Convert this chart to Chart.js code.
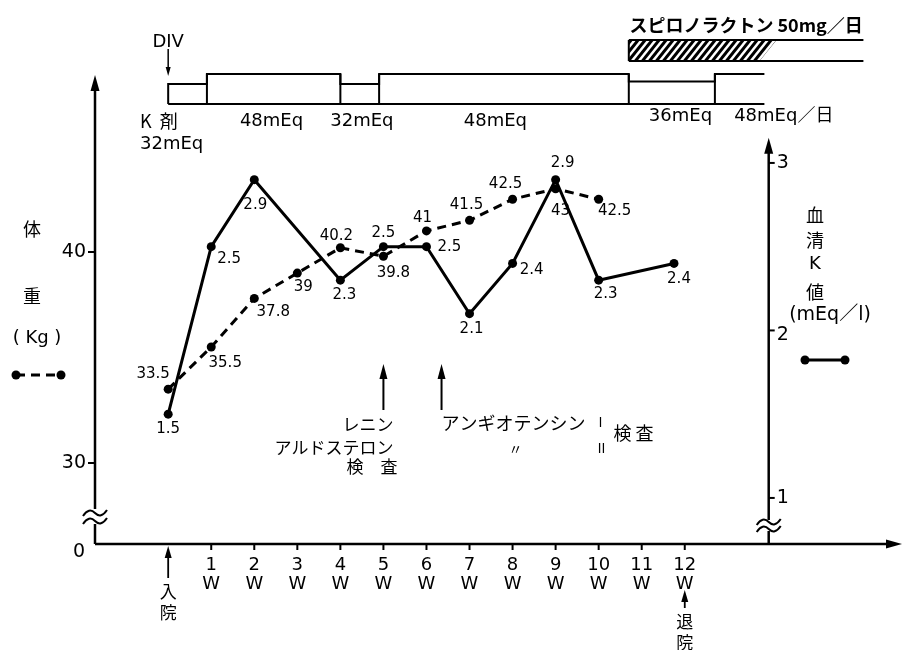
<!DOCTYPE html>
<html>
<head>
<meta charset="utf-8">
<script src="https://cdn.jsdelivr.net/npm/chart.js@4"></script>
<style>
  body { margin: 0; background: #fff; }
  #wrap { width: 906px; height: 650px; }
</style>
</head>
<body>
<div id="wrap"><canvas id="chart"></canvas></div>
<script>
// body weight (Kg), dashed line
const weeks = [0, 1, 2, 3, 4, 5, 6, 7, 8, 9, 10];
const weightKg = [33.5, 35.5, 37.8, 39, 40.2, 39.8, 41, 41.5, 42.5, 43, 42.5];

// serum K (mEq/l), solid line
const kWeeks = [0, 1, 2, 4, 5, 6, 7, 8, 9, 10, 11.75];
const serumK = [1.5, 2.5, 2.9, 2.3, 2.5, 2.5, 2.1, 2.4, 2.9, 2.3, 2.4];

// axes
const weekTicks = [1, 2, 3, 4, 5, 6, 7, 8, 9, 10, 11, 12];
const weightTicks = [30, 40];
const kTicks = [1, 2, 3];

// K supplement schedule (weeks) and dose
const doseEdges = [0, 0.9, 4, 4.9, 10.7, 12.7, 13.85];
const doseMEq = [32, 48, 32, 48, 36, 48];
const doseLabels = ['48mEq', '32mEq', '48mEq', '36mEq', '48mEq／日'];
const doseLabelWeeks = [2.4, 4.5, 7.6, 11.9, 14.3];

// spironolactone: start, end of hatching, end of bar
const spiroWeeks = [10.7, 13.9, 16.15];

// hormone tests
const testWeeks = [5, 6.35];

// where value labels sit relative to their points
const weightLabelOffsets = [[-15, -15], [14, 16], [19, 14], [6, 14], [-4, -12], [10, 17], [-4, -13], [-3, -15], [-7, -15], [5, 22], [16, 12]];
const kLabelOffsets = [[0, 15], [18, 12], [1, 25], [4, 15], [0, -14], [23, 0], [2, 15], [19, 7], [7, -17], [7, 14], [5, 16]];

const JP = '"Noto Sans CJK JP", sans-serif';
const NUM = '"DejaVu Sans", "Noto Sans CJK JP", sans-serif';

function line(ctx, x1, y1, x2, y2) {
    ctx.beginPath();
    ctx.moveTo(x1, y1);
    ctx.lineTo(x2, y2);
    ctx.stroke();
}

function text(ctx, s, x, y, font, align) {
    ctx.font = font;
    ctx.textAlign = align || 'center';
    ctx.textBaseline = 'middle';
    ctx.fillText(s, x, y);
}

function headUp(ctx, x, y, w, h) {
    ctx.beginPath();
    ctx.moveTo(x, y);
    ctx.lineTo(x - w / 2, y + h);
    ctx.lineTo(x + w / 2, y + h);
    ctx.closePath();
    ctx.fill();
}

function tilde(ctx, x, y) {
    ctx.beginPath();
    ctx.moveTo(x - 12, y + 3);
    ctx.quadraticCurveTo(x - 6, y - 6, x, y);
    ctx.quadraticCurveTo(x + 6, y + 6, x + 12, y - 3);
    ctx.stroke();
}

function dotLine(ctx, x1, x2, y, dash) {
    ctx.save();
    ctx.lineWidth = 3;
    ctx.setLineDash(dash);
    line(ctx, x1, y, x2, y);
    ctx.setLineDash([]);
    ctx.beginPath(); ctx.arc(x1, y, 4.5, 0, Math.PI * 2); ctx.fill();
    ctx.beginPath(); ctx.arc(x2, y, 4.5, 0, Math.PI * 2); ctx.fill();
    ctx.restore();
}

const annotate = {
    id: 'annotate',
    beforeDatasetsDraw(chart) {
        const { ctx, chartArea: a, scales } = chart;
        const x = scales.x, yW = scales.yW, yK = scales.yK;
        ctx.save();
        ctx.strokeStyle = '#000';
        ctx.fillStyle = '#000';
        ctx.lineWidth = 2.5;

        const x0 = a.left, yb = a.bottom;
        // left axis with break
        line(ctx, x0, yb, x0, 524);
        line(ctx, x0, 509, x0, a.top + 10);
        headUp(ctx, x0, a.top, 9, 16);
        ctx.lineWidth = 2;
        tilde(ctx, x0, 513);
        tilde(ctx, x0, 521);

        // x axis
        ctx.lineWidth = 2.5;
        line(ctx, x0, yb, a.right - 10, yb);
        ctx.beginPath();
        ctx.moveTo(a.right + 2, yb);
        ctx.lineTo(a.right - 14, yb - 4.5);
        ctx.lineTo(a.right - 14, yb + 4.5);
        ctx.closePath();
        ctx.fill();

        // right axis with break
        const xr = x.getPixelForValue(13.95);
        const yTop = yK.getPixelForValue(3.15);
        line(ctx, xr, yb, xr, 531);
        line(ctx, xr, 520, xr, yTop + 10);
        headUp(ctx, xr, yTop, 9, 16);
        ctx.lineWidth = 2;
        tilde(ctx, xr, 522);
        tilde(ctx, xr, 529);

        // week ticks and labels
        ctx.lineWidth = 2;
        weekTicks.forEach(w => {
            const px = x.getPixelForValue(w);
            line(ctx, px, yb, px, yb + 6);
            text(ctx, String(w), px, 565, '18px ' + NUM);
            text(ctx, 'W', px, 584, '18px ' + NUM);
        });

        // weight ticks
        weightTicks.forEach(v => {
            const py = yW.getPixelForValue(v);
            line(ctx, x0 - 7, py, x0, py);
            text(ctx, String(v), x0 - 9, py, '19px ' + NUM, 'right');
        });
        text(ctx, '0', 79, 552, '19px ' + NUM);

        // serum K ticks
        kTicks.forEach(v => {
            const py = yK.getPixelForValue(v);
            line(ctx, xr, py, xr + 6, py);
            text(ctx, String(v), xr + 8, py + (v === 2 ? 5 : 0), '19px ' + NUM, 'left');
        });
        ctx.restore();
    },
    afterDatasetsDraw(chart) {
        const { ctx, chartArea: a, scales } = chart;
        const x = scales.x;
        ctx.save();
        ctx.strokeStyle = '#000';
        ctx.fillStyle = '#000';

        // value labels next to points
        const wMeta = chart.getDatasetMeta(0), kMeta = chart.getDatasetMeta(1);
        wMeta.data.forEach((pt, i) => {
            const o = weightLabelOffsets[i];
            text(ctx, String(weightKg[i]), pt.x + o[0], pt.y + o[1], '15px ' + NUM);
        });
        kMeta.data.forEach((pt, i) => {
            const o = kLabelOffsets[i];
            text(ctx, serumK[i].toFixed(1), pt.x + o[0], pt.y + o[1], '15px ' + NUM);
        });

        // admission / discharge
        const p0 = x.getPixelForValue(0), p12 = x.getPixelForValue(12);
        ctx.lineWidth = 1.8;
        line(ctx, p0, 578, p0, a.bottom + 10);
        headUp(ctx, p0, a.bottom + 2, 7, 12);
        text(ctx, '入', p0, 592, '17px ' + JP);
        text(ctx, '院', p0, 613, '17px ' + JP);
        line(ctx, p12, 608, p12, 597);
        headUp(ctx, p12, 590, 7, 12);
        text(ctx, '退', p12, 622, '17px ' + JP);
        text(ctx, '院', p12, 643, '17px ' + JP);

        // DIV arrow
        text(ctx, 'DIV', p0, 42, '18px ' + NUM);
        ctx.lineWidth = 1.5;
        line(ctx, p0, 49, p0, 70);
        headUp(ctx, p0, 76, 5, -9);

        // K supplement steps
        const base = 104;
        const tops = doseMEq.map(d => base - d * 0.625);
        const ex = doseEdges.map(w => x.getPixelForValue(w));
        ctx.lineWidth = 2;
        ctx.beginPath();
        ctx.moveTo(ex[0], base);
        ctx.lineTo(ex[0], tops[0]);
        tops.forEach((t, i) => {
            ctx.lineTo(ex[i + 1], t);
            if (i < tops.length - 1) ctx.lineTo(ex[i + 1], tops[i + 1]);
        });
        ctx.stroke();
        for (let i = 1; i < ex.length - 1; i++) {
            line(ctx, ex[i], base, ex[i], Math.min(tops[i - 1], tops[i]));
        }
        line(ctx, ex[0], base, ex[ex.length - 1], base);

        text(ctx, 'K  剤', 140, 121, '18px ' + JP, 'left');
        text(ctx, '32mEq', 140, 144, '18px ' + NUM, 'left');
        doseLabels.forEach((s, i) => {
            const y = i < 3 ? 121 : 116;
            text(ctx, s, x.getPixelForValue(doseLabelWeeks[i]), y, '18px ' + NUM);
        });

        // spironolactone bar
        const s0 = x.getPixelForValue(spiroWeeks[0]);
        const sh = x.getPixelForValue(spiroWeeks[1]);
        const s1 = x.getPixelForValue(spiroWeeks[2]);
        ctx.lineWidth = 2;
        line(ctx, s0, 40, s1, 40);
        line(ctx, s0, 61, s1, 61);
        line(ctx, s0, 40, s0, 61);
        ctx.save();
        ctx.beginPath();
        ctx.moveTo(s0, 40);
        ctx.lineTo(sh + 10, 40);
        ctx.lineTo(sh - 7, 61);
        ctx.lineTo(s0, 61);
        ctx.closePath();
        ctx.clip();
        ctx.lineWidth = 3;
        for (let hx = s0 - 30; hx < sh + 30; hx += 7) {
            line(ctx, hx, 63, hx + 20, 38);
        }
        ctx.restore();
        text(ctx, 'スピロノラクトン 50mg／日', (s0 + s1) / 2, 25, 'bold 18px ' + JP);

        // hormone test arrows
        ctx.lineWidth = 2;
        testWeeks.forEach(w => {
            const px = x.getPixelForValue(w);
            line(ctx, px, 410, px, 375);
            headUp(ctx, px, 364, 8, 15);
        });
        const t0 = x.getPixelForValue(testWeeks[0]) + 10;
        const t1 = x.getPixelForValue(testWeeks[1]);
        text(ctx, 'レニン', t0, 425, '17px ' + JP, 'right');
        text(ctx, 'アルドステロン', t0, 448, '17px ' + JP, 'right');
        text(ctx, '検　査', t0 + 4, 467, '17px ' + JP, 'right');
        text(ctx, 'アンギオテンシン', t1, 423, '18px ' + JP, 'left');
        text(ctx, '〃', t1 + 74, 449, '14px ' + JP);
        text(ctx, 'Ⅰ', t1 + 159, 422, '13px ' + JP);
        text(ctx, 'Ⅱ', t1 + 160, 448, '13px ' + JP);
        text(ctx, '検 査', t1 + 192, 433, '18px ' + JP);

        // left axis title + legend
        text(ctx, '体', 32, 229, '18px ' + JP);
        text(ctx, '重', 32, 296, '18px ' + JP);
        text(ctx, '( Kg )', 37, 338, '18px ' + NUM);
        dotLine(ctx, 16, 61, 375, [9, 6]);

        // right axis title + legend
        text(ctx, '血', 815, 215, '18px ' + JP);
        text(ctx, '清', 815, 240, '18px ' + JP);
        text(ctx, 'K', 815, 264, '18px ' + NUM);
        text(ctx, '値', 815, 292, '18px ' + JP);
        text(ctx, '(mEq／l)', 830, 315, '19px ' + NUM);
        dotLine(ctx, 805, 845, 360, []);

        ctx.restore();
    }
};

const lineStyle = {
    borderColor: '#000',
    backgroundColor: '#000',
    borderWidth: 3,
    pointRadius: 4.5,
    pointBorderWidth: 0,
    tension: 0
};

new Chart(document.getElementById('chart'), {
    type: 'line',
    data: {
        datasets: [
            {
                ...lineStyle,
                label: '体重',
                data: weeks.map((w, i) => ({ x: w, y: weightKg[i] })),
                yAxisID: 'yW',
                borderDash: [9, 6]
            },
            {
                ...lineStyle,
                label: '血清K値',
                data: kWeeks.map((w, i) => ({ x: w, y: serumK[i] })),
                yAxisID: 'yK'
            }
        ]
    },
    options: {
        responsive: true,
        maintainAspectRatio: false,
        animation: false,
        layout: { padding: { left: 95, right: 6, top: 75, bottom: 106 } },
        plugins: { legend: { display: false }, tooltip: { enabled: false } },
        scales: {
            x: { type: 'linear', min: -1.7, max: 17, display: false },
            yW: { type: 'linear', min: 26.16, max: 48.39, display: false },
            yK: { type: 'linear', min: 0.725, max: 3.525, display: false }
        }
    },
    plugins: [annotate]
});
</script>
</body>
</html>
